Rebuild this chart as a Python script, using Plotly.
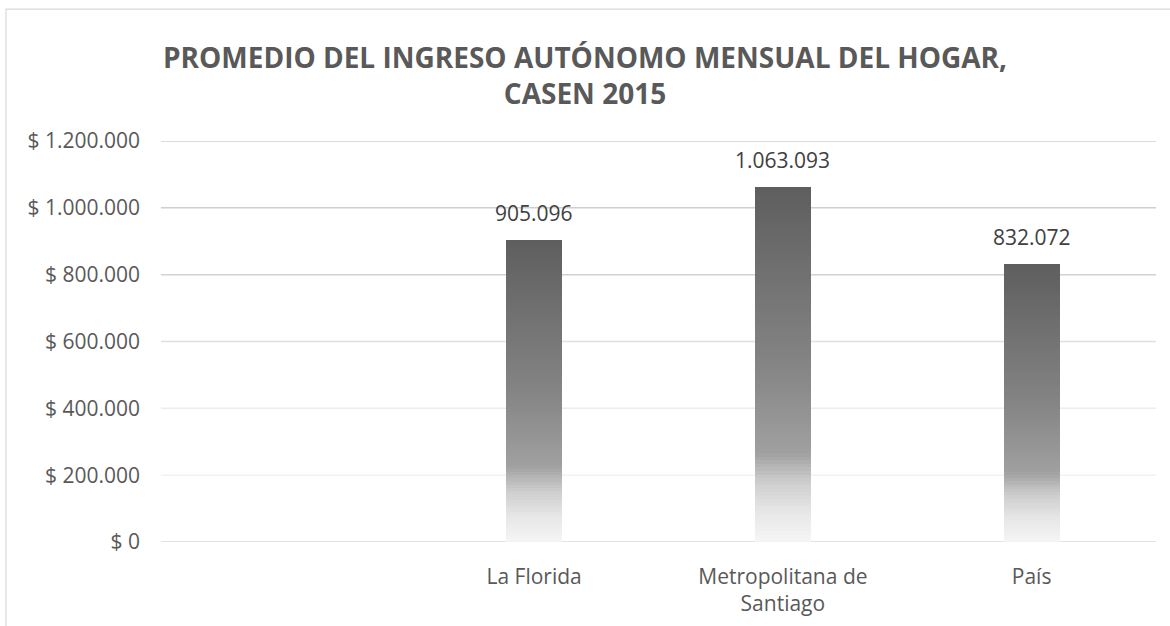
import plotly.graph_objects as go

# ---- data ----
categories = ["", "La Florida", "Metropolitana de<br>Santiago", "País"]
values = [None, 905096, 1063093, 832072]
tick_values = [0, 200000, 400000, 600000, 800000, 1000000, 1200000]
tick_labels = ["$ 0", "$ 200.000", "$ 400.000", "$ 600.000", "$ 800.000", "$ 1.000.000", "$ 1.200.000"]
title_text = "PROMEDIO DEL INGRESO AUTÓNOMO MENSUAL DEL HOGAR,<br>CASEN 2015"

# ---- styles ----
grid_colors = ["#d9d9d9", "#f2f2f2", "#ececec", "#e0e0e0", "#d2d2d2", "#cfcfcf", "#cfcfcf"]
FONT = "Open Sans"
TXT = "#595959"

# gradient (fraction from bottom -> grey level)
grad_stops = [(0.0, 245), (0.08, 232), (0.17, 205), (0.25, 160), (0.5, 132), (1.0, 94)]


def grey_at(f):
    for (f0, g0), (f1, g1) in zip(grad_stops[:-1], grad_stops[1:]):
        if f0 <= f <= f1:
            g = g0 + (g1 - g0) * (f - f0) / (f1 - f0)
            g = int(round(g))
            return f"rgb({g},{g},{g})"
    g = grad_stops[-1][1]
    return f"rgb({g},{g},{g})"


x_pos = list(range(len(categories)))
N = 100
fig = go.Figure()
for i in range(N):
    frac = (i + 0.5) / N
    seg_h = [None if v is None else v / N for v in values]
    seg_b = [None if v is None else v * i / N for v in values]
    fig.add_trace(go.Bar(
        x=x_pos, y=seg_h, base=seg_b, width=0.225,
        marker=dict(color=grey_at(frac), line=dict(width=0)),
        showlegend=False, hoverinfo="skip",
    ))

# data labels
for xp, v in zip(x_pos, values):
    if v is None:
        continue
    fig.add_annotation(
        x=xp, y=v, xref="x", yref="y",
        text=f"{v:,}".replace(",", "."),
        showarrow=False, yanchor="bottom", yshift=11,
        font=dict(family=FONT, size=21, color="#404040"),
    )

# gridlines
for tv, gc in zip(tick_values, grid_colors):
    fig.add_shape(type="line", xref="paper", yref="y", x0=0, x1=1, y0=tv, y1=tv,
                  line=dict(color=gc, width=1.5), layer="below")

# outer chart border
fig.add_shape(type="rect", xref="paper", yref="paper",
              x0=-0.1558, x1=1.03, y0=-0.3, y1=1.329,
              line=dict(color="#d9d9d9", width=1.2), layer="below")

fig.update_layout(
    width=1170, height=626,
    margin=dict(l=161, r=14, t=141, b=84),
    paper_bgcolor="white", plot_bgcolor="white",
    barmode="overlay", bargap=0,
    title=dict(text=title_text, x=0.5, xanchor="center", xref="container",
               y=1 - 68 / 626, yanchor="middle", yref="container",
               font=dict(family=FONT, size=28, color=TXT, weight="bold")),
    font=dict(family=FONT, size=21, color=TXT),
    xaxis=dict(range=[-0.5, 3.5], tickmode="array", tickvals=x_pos, ticktext=categories,
               showgrid=False, zeroline=False, showline=False, ticks="", automargin=False,
               ticklabelstandoff=20, tickfont=dict(family=FONT, size=21, color=TXT)),
    yaxis=dict(range=[0, 1200000], tickmode="array", tickvals=tick_values,
               ticktext=tick_labels, showgrid=False, zeroline=False, automargin=False,
               showline=False, ticks="", ticklabelstandoff=20,
               tickfont=dict(family=FONT, size=21, color=TXT)),
)

fig.write_html("out.html", config={"displayModeBar": False},
               post_script="document.body.style.margin='0';document.body.style.overflow='hidden';")
